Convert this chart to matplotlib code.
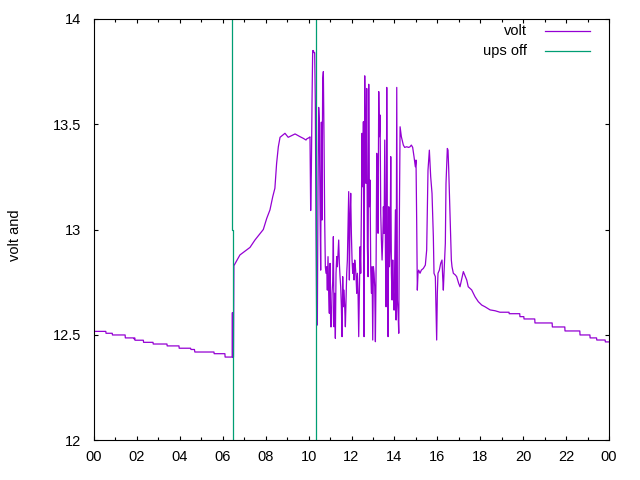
import numpy as np
import matplotlib
matplotlib.use("Agg")
import matplotlib.pyplot as plt

# ---- data (hours of day, volts) ----
night_t = [0.0, 0.55, 0.56, 0.85, 0.86, 1.45, 1.46, 1.85, 1.87, 1.9, 1.91, 2.3, 2.31,
           2.75, 2.76, 3.4, 3.41, 3.96, 3.97, 4.5, 4.52, 4.68, 4.7, 5.59, 5.6, 6.1,
           6.11, 6.44, 6.45, 6.46, 6.50]
night_v = [12.516, 12.516, 12.507, 12.507, 12.499, 12.499, 12.485, 12.485, 12.480, 12.485,
           12.474, 12.474, 12.464, 12.464, 12.456, 12.456, 12.447, 12.447, 12.436, 12.436,
           12.430, 12.430, 12.418, 12.418, 12.410, 12.410, 12.394, 12.394, 12.605, 12.394,
           12.394]

morning_t = [6.52, 6.80, 7.27, 7.50, 7.89, 8.05, 8.20, 8.33, 8.43, 8.51, 8.59, 8.67,
             8.90, 9.05, 9.37, 9.60, 9.755, 9.88, 9.91, 10.03]
morning_v = [12.828, 12.879, 12.915, 12.950, 13.000, 13.053, 13.093, 13.156, 13.196,
             13.314, 13.393, 13.438, 13.457, 13.438, 13.454, 13.441, 13.433, 13.425,
             13.430, 13.437]

# burst of readings while the supply was unstable (sampled every ~1.9 min)
burst_start = 10.066
burst_step = 0.0311
burst_v = [13.44, 13.09, 13.27, 13.60, 13.85, 13.85, 13.84, 13.84, 13.60, 13.00,
           12.57, 12.546, 13.20, 13.58, 13.51, 13.124, 12.807, 13.51, 13.045, 13.71,
           13.75, 13.441, 13.045, 12.823, 12.792, 12.823, 12.712, 12.871, 12.697, 12.602,
           12.839, 12.538, 12.538, 12.697, 12.752, 12.966, 12.538, 12.697, 12.483, 12.792,
           12.871, 12.823, 12.887, 12.950, 12.839, 12.776, 12.728, 12.633, 12.491, 12.776,
           12.633, 12.712, 12.633, 12.538, 12.665, 12.792, 12.855, 13.013, 13.180, 12.760,
           13.061, 13.172, 12.982, 12.855, 12.792, 12.839, 12.760, 12.855, 12.823, 12.776,
           12.697, 12.792, 12.697, 12.491, 12.712, 12.918, 12.792, 13.093, 13.457, 13.203,
           13.512, 12.491, 13.730, 13.425, 13.219, 13.670, 12.918, 12.776, 13.690, 13.108,
           13.235, 12.807, 12.697, 12.823, 12.475, 12.823, 12.792, 12.728, 12.467, 12.807,
           13.362, 13.251, 12.982, 13.655, 13.441, 13.544, 13.077, 12.950, 12.855, 12.950,
           13.108, 12.982, 13.425, 12.918, 12.633, 13.675, 12.950, 12.491, 13.108, 12.823,
           12.902, 13.346, 12.792, 12.665, 12.855, 12.697, 12.617, 12.839, 13.093, 12.570,
           13.675, 12.665, 12.602, 12.507, 13.093, 13.488]

evening_t = [14.323, 14.416, 14.478, 14.571, 14.664, 14.727, 14.789, 14.851, 14.913,
             14.975, 15.006, 15.037, 15.068, 15.099, 15.130, 15.193, 15.255, 15.348,
             15.441, 15.503, 15.565, 15.628, 15.690, 15.752, 15.814, 15.845, 15.907,
             15.938, 15.969, 16.000, 16.031, 16.094, 16.156, 16.218, 16.249, 16.280,
             16.311, 16.373, 16.404, 16.466, 16.498, 16.529, 16.591, 16.653, 16.684,
             16.746, 16.839, 16.901, 16.995, 17.057, 17.212, 17.37, 17.44, 17.60, 17.76,
             17.91, 18.07, 18.22, 18.46, 18.69, 18.92, 19.34, 19.35, 19.84, 19.85, 20.03,
             20.04, 20.54, 20.55, 21.35, 21.36, 21.94, 21.95, 22.64, 22.65, 23.11, 23.12,
             23.42, 23.43, 23.82, 23.83, 24.0]
evening_v = [13.441, 13.401, 13.390, 13.393, 13.390, 13.393, 13.401, 13.390, 13.346,
             13.298, 13.330, 13.045, 12.712, 12.792, 12.807, 12.792, 12.807, 12.815,
             12.831, 12.902, 13.282, 13.377, 13.251, 13.172, 12.966, 12.792, 12.776,
             12.633, 12.475, 12.697, 12.792, 12.807, 12.839, 12.855, 12.776, 12.712,
             12.792, 12.934, 13.219, 13.385, 13.377, 13.290, 13.077, 12.855, 12.823,
             12.792, 12.784, 12.776, 12.744, 12.728, 12.800, 12.760, 12.728, 12.713,
             12.680, 12.657, 12.641, 12.633, 12.618, 12.614, 12.607, 12.607, 12.600,
             12.600, 12.586, 12.586, 12.575, 12.575, 12.556, 12.556, 12.537, 12.537,
             12.518, 12.518, 12.499, 12.499, 12.485, 12.485, 12.475, 12.475, 12.466,
             12.466]

ups_t = [6.445, 6.445, 6.49, 6.49, np.nan, 10.36, 10.36, 10.33, 10.33]
ups_v = [14.0, 13.0, 13.0, 12.0, np.nan, 14.0, 13.0, 13.0, 12.0]

x_ticks = list(range(0, 25, 2))
x_labels = ["00", "02", "04", "06", "08", "10", "12", "14", "16", "18", "20", "22", "00"]
y_ticks = [12, 12.5, 13, 13.5, 14]
y_labels = ["12", "12.5", "13", "13.5", "14"]

# ---- assemble ----
burst_t = burst_start + burst_step * np.arange(len(burst_v))
volt_t = np.concatenate([night_t, morning_t, burst_t, evening_t])
volt_v = np.concatenate([night_v, morning_v, burst_v, evening_v])

plt.rcParams['font.family'] = ['Liberation Sans', 'DejaVu Sans']
fig = plt.figure(figsize=(6.4, 4.8), dpi=100)
ax = fig.add_axes([94/640, 40/480, 515/640, 421/480])

volt_color = '#9400D3'
ups_color = '#009E73'
ax.plot(volt_t, volt_v, color=volt_color, lw=0.9)
ax.plot(ups_t, ups_v, color=ups_color, lw=0.9)

ax.set_xlim(0, 24)
ax.set_ylim(12, 14)
ax.set_xticks(x_ticks)
ax.set_xticklabels(x_labels)
ax.set_xticks(range(1, 24, 2), minor=True)
ax.set_yticks(y_ticks)
ax.set_yticklabels(y_labels)
ax.tick_params(which='both', direction='in', top=True, right=True, labelsize=10.5,
               width=0.8)
ax.tick_params(which='major', length=3.2)
ax.tick_params(which='minor', length=2.0)
ax.tick_params(axis='y', pad=9)
ax.tick_params(axis='x', pad=7)
for s in ax.spines.values():
    s.set_linewidth(0.8)

fig.text(15/640, 1 - 235/480, 'volt and', rotation=90, ha='center', va='center',
         fontsize=10.5)

# gnuplot-style key (right-aligned text, sample line to the right)
for i, (lab, col) in enumerate([('volt', volt_color), ('ups off', ups_color)]):
    yk = (440 - (31 + 20 * i)) / 421
    ax.text(0.8408, yk, lab, transform=ax.transAxes, ha='right', va='center',
            fontsize=10.5)
    ax.plot([0.8757, 0.9631], [yk, yk], transform=ax.transAxes, color=col, lw=0.9,
            clip_on=False)

fig.savefig('out.png', dpi=100)
